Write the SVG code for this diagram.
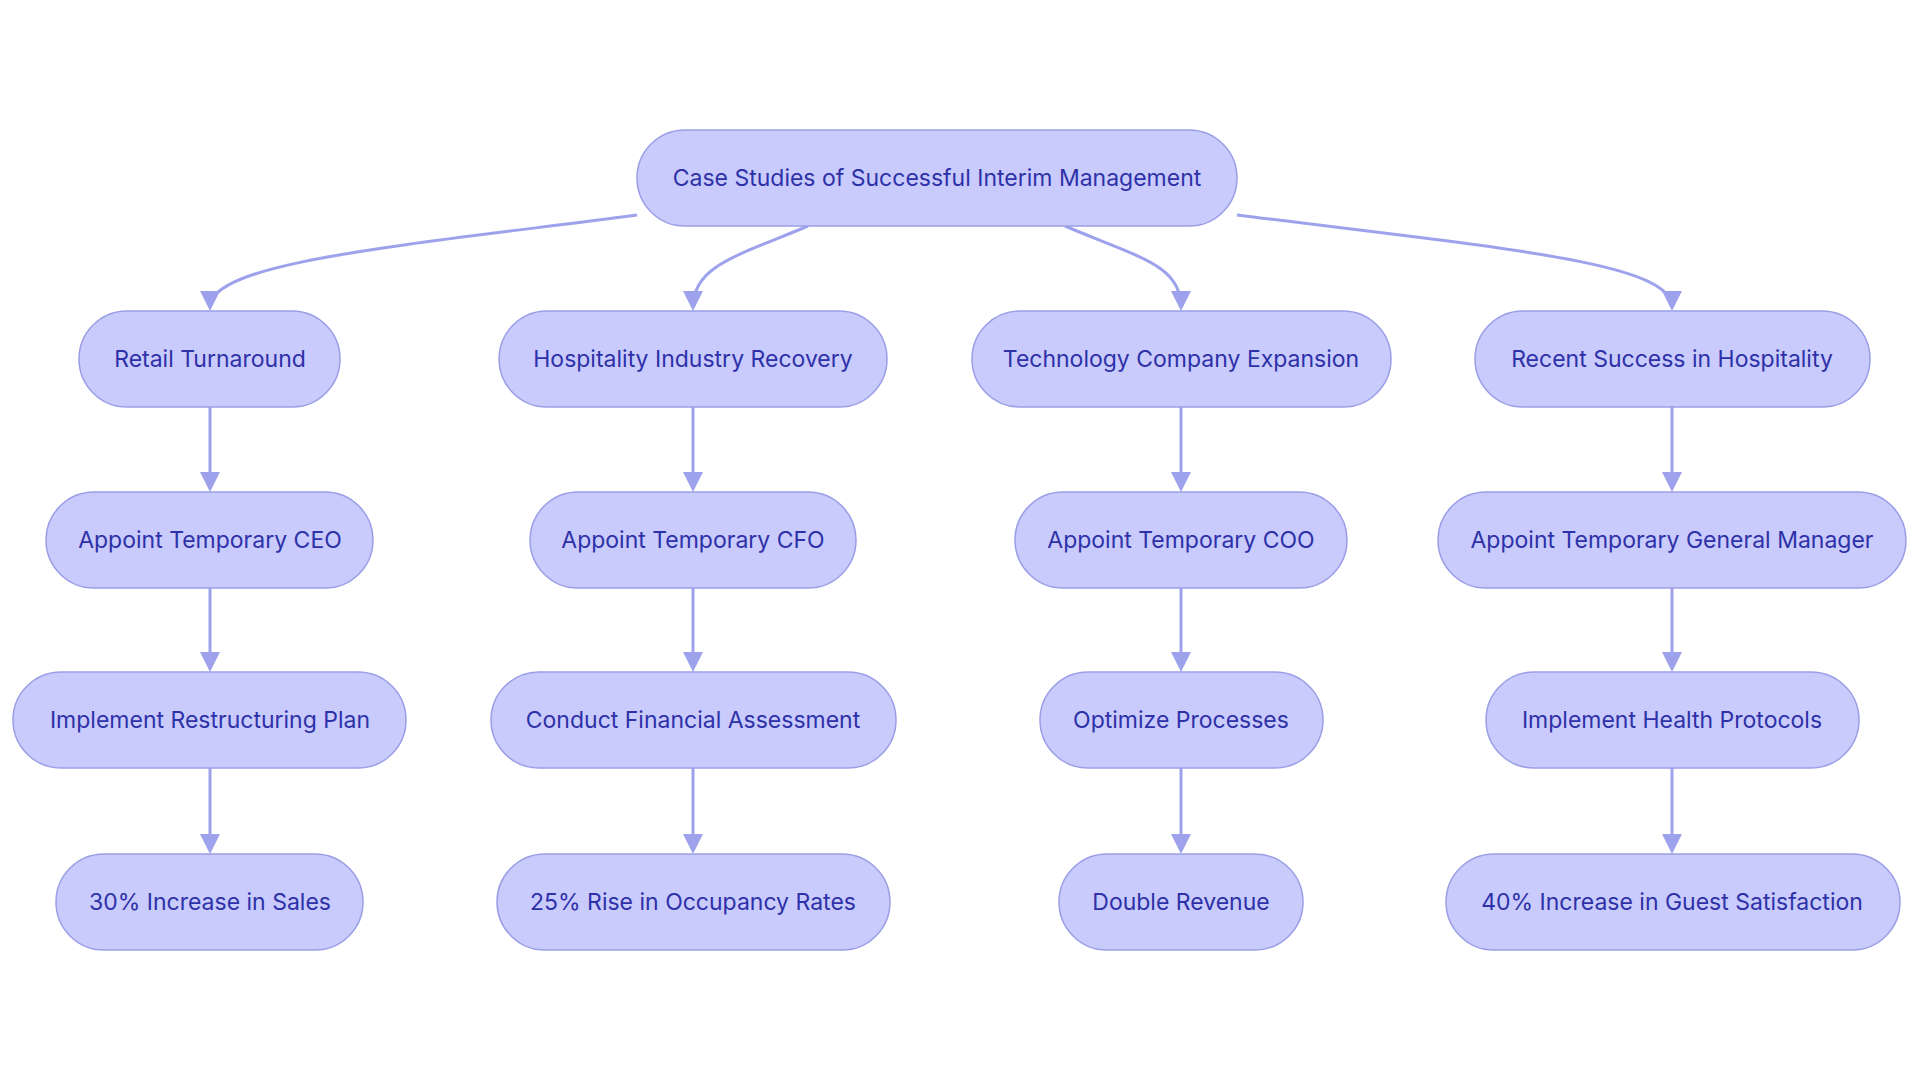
<svg xmlns="http://www.w3.org/2000/svg" width="1920" height="1083" viewBox="0 0 1920 1083">
<defs>
<marker id="arrow" viewBox="0 0 10 10" refX="8" refY="5" markerUnits="userSpaceOnUse" markerWidth="20" markerHeight="20" orient="auto">
<path d="M0,0 L10,5 L0,10 z" fill="#9ea2ec"/>
</marker>
<style>
.node rect{fill:#c8cbfc;stroke:#9a9ee6;stroke-width:1.5}
.node text{font-family:Inter,"Noto Sans",sans-serif;font-size:23px;fill:#2e31a8;text-anchor:middle}
.edge{fill:none;stroke:#9ea2ec;stroke-width:3;marker-end:url(#arrow)}
</style>
</defs>
<rect width="1920" height="1083" fill="#ffffff"/>
<g id="connectors">
<path class="edge" d="M637,215 C400,246 210,262 210,307"/>
<path class="edge" d="M808,226 C740,255 693,265 693,307"/>
<path class="edge" d="M1065,226 C1140,258 1181,265 1181,307"/>
<path class="edge" d="M1237,215 C1500,248 1672,262 1672,307"/>
<path class="edge" d="M210,407 L210,488"/>
<path class="edge" d="M210,588 L210,668"/>
<path class="edge" d="M210,768 L210,850"/>
<path class="edge" d="M693,407 L693,488"/>
<path class="edge" d="M693,588 L693,668"/>
<path class="edge" d="M693,768 L693,850"/>
<path class="edge" d="M1181,407 L1181,488"/>
<path class="edge" d="M1181,588 L1181,668"/>
<path class="edge" d="M1181,768 L1181,850"/>
<path class="edge" d="M1672,407 L1672,488"/>
<path class="edge" d="M1672,588 L1672,668"/>
<path class="edge" d="M1672,768 L1672,850"/>
</g>
<g id="root" class="node"><rect x="637" y="130" width="600" height="96" rx="48"/><text x="937" y="186">Case Studies of Successful Interim Management</text></g>
<g id="retail" class="node"><rect x="79" y="311" width="261" height="96" rx="48"/><text x="210" y="367">Retail Turnaround</text></g>
<g id="hospitality" class="node"><rect x="499" y="311" width="388" height="96" rx="48"/><text x="693" y="367">Hospitality Industry Recovery</text></g>
<g id="technology" class="node"><rect x="972" y="311" width="419" height="96" rx="48"/><text x="1181" y="367">Technology Company Expansion</text></g>
<g id="recent" class="node"><rect x="1475" y="311" width="395" height="96" rx="48"/><text x="1672" y="367">Recent Success in Hospitality</text></g>
<g id="ceo" class="node"><rect x="46" y="492" width="327" height="96" rx="48"/><text x="210" y="548">Appoint Temporary CEO</text></g>
<g id="cfo" class="node"><rect x="530" y="492" width="326" height="96" rx="48"/><text x="693" y="548">Appoint Temporary CFO</text></g>
<g id="coo" class="node"><rect x="1015" y="492" width="332" height="96" rx="48"/><text x="1181" y="548">Appoint Temporary COO</text></g>
<g id="gm" class="node"><rect x="1438" y="492" width="468" height="96" rx="48"/><text x="1672" y="548">Appoint Temporary General Manager</text></g>
<g id="restructuring" class="node"><rect x="13" y="672" width="393" height="96" rx="48"/><text x="210" y="728">Implement Restructuring Plan</text></g>
<g id="financial" class="node"><rect x="491" y="672" width="405" height="96" rx="48"/><text x="693" y="728">Conduct Financial Assessment</text></g>
<g id="optimize" class="node"><rect x="1040" y="672" width="283" height="96" rx="48"/><text x="1181" y="728">Optimize Processes</text></g>
<g id="health" class="node"><rect x="1486" y="672" width="373" height="96" rx="48"/><text x="1672" y="728">Implement Health Protocols</text></g>
<g id="sales" class="node"><rect x="56" y="854" width="307" height="96" rx="48"/><text x="210" y="910">30% Increase in Sales</text></g>
<g id="occupancy" class="node"><rect x="497" y="854" width="393" height="96" rx="48"/><text x="693" y="910">25% Rise in Occupancy Rates</text></g>
<g id="revenue" class="node"><rect x="1059" y="854" width="244" height="96" rx="48"/><text x="1181" y="910">Double Revenue</text></g>
<g id="guest" class="node"><rect x="1446" y="854" width="454" height="96" rx="48"/><text x="1672" y="910">40% Increase in Guest Satisfaction</text></g>
</svg>
